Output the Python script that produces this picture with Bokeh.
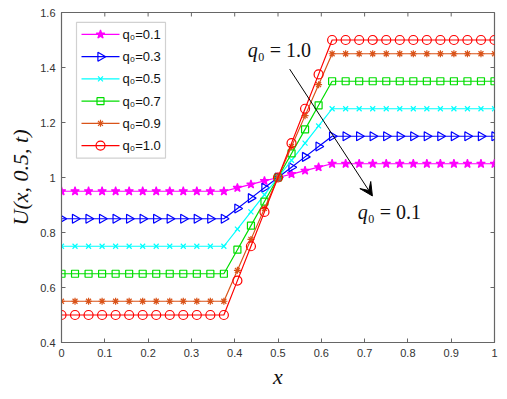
import math
from bokeh.plotting import figure
from bokeh.models import (FixedTicker, Range1d, Arrow, VeeHead, Label, BoxAnnotation)
from bokeh.embed import file_html
from bokeh.resources import INLINE

# ---- data ----
x = [0, 0.03125, 0.0625, 0.09375, 0.125, 0.15625, 0.1875, 0.21875, 0.25,
     0.28125, 0.3125, 0.34375, 0.375, 0.40625, 0.4375, 0.46875, 0.5, 0.53125,
     0.5625, 0.59375, 0.625, 0.65625, 0.6875, 0.71875, 0.75, 0.78125, 0.8125,
     0.84375, 0.875, 0.90625, 0.9375, 0.96875, 1.0]

u_q01 = [0.95]*13 + [0.9625, 0.975, 0.9875, 1.0, 1.0125, 1.025, 1.0375] + [1.05]*13
u_q03 = [0.85]*13 + [0.8875, 0.925, 0.9625, 1.0, 1.0375, 1.075, 1.1125] + [1.15]*13
u_q05 = [0.75]*13 + [0.8125, 0.875, 0.9375, 1.0, 1.0625, 1.125, 1.1875] + [1.25]*13
u_q07 = [0.65]*13 + [0.7375, 0.825, 0.9125, 1.0, 1.0875, 1.175, 1.2625] + [1.35]*13
u_q09 = [0.55]*13 + [0.6625, 0.775, 0.8875, 1.0, 1.1125, 1.225, 1.3375] + [1.45]*13
u_q10 = [0.5]*13 + [0.625, 0.75, 0.875, 1.0, 1.125, 1.25, 1.375] + [1.5]*13

labels = ["q\u2080=0.1", "q\u2080=0.3", "q\u2080=0.5", "q\u2080=0.7", "q\u2080=0.9", "q\u2080=1.0"]
series = [u_q01, u_q03, u_q05, u_q07, u_q09, u_q10]

x_ticks = [0, 0.1, 0.2, 0.3, 0.4, 0.5, 0.6, 0.7, 0.8, 0.9, 1.0]
x_tick_labels = ["0", "0.1", "0.2", "0.3", "0.4", "0.5", "0.6", "0.7", "0.8", "0.9", "1"]
y_ticks = [0.4, 0.6, 0.8, 1.0, 1.2, 1.4, 1.6]
y_tick_labels = ["0.4", "0.6", "0.8", "1", "1.2", "1.4", "1.6"]

# ---- styles ----
colors = ["#FF00FF", "#0000FF", "#00FFFF", "#00DD00", "#D95319", "#FF0000"]
markers = ["star", "triangle", "x", "square", "asterisk", "circle"]
angles = [0, -90, 0, 0, 0, 0]
fills = [True, False, False, False, False, False]
sizes = [9, 9, 7, 7, 7, 9]

X0, X1, Y0, Y1 = 0, 1, 0.4, 1.6
ML, MT, FW, FH = 61, 12, 433, 331


def xd(px):
    return X0 + (px - ML) / FW * (X1 - X0)


def yd(py):
    return Y1 - (py - MT) / FH * (Y1 - Y0)


p = figure(width=499, height=391, output_backend="svg", toolbar_location=None,
           x_range=Range1d(X0, X1), y_range=Range1d(Y0, Y1),
           min_border_left=ML, min_border_right=5, min_border_top=MT,
           min_border_bottom=48)
p.xgrid.visible = False
p.ygrid.visible = False
p.outline_line_color = "#666666"
p.outline_line_width = 1.2

axis_col = "#666666"
for ax in [p.xaxis[0], p.yaxis[0]]:
    ax.axis_line_color = axis_col
    ax.major_tick_line_color = axis_col
    ax.minor_tick_line_color = None
    ax.major_tick_in = 4
    ax.major_tick_out = 0
    ax.major_label_text_font = "Liberation Sans"
    ax.major_label_text_font_size = "11px"
    ax.major_label_text_color = "#333333"
    ax.axis_label_text_font = "Liberation Serif"
    ax.axis_label_text_font_style = "italic"
    ax.axis_label_text_font_size = "22px"
    ax.axis_label_text_color = "#111111"

p.xaxis[0].ticker = FixedTicker(ticks=x_ticks)
p.xaxis[0].major_label_overrides = {t: l for t, l in zip(x_ticks, x_tick_labels)}
p.yaxis[0].ticker = FixedTicker(ticks=y_ticks)
p.yaxis[0].major_label_overrides = {t: l for t, l in zip(y_ticks, y_tick_labels)}
p.xaxis[0].axis_label = "x"
p.xaxis[0].axis_label_standoff = 4
p.yaxis[0].axis_label = "U(x, 0.5, t)"
p.yaxis[0].axis_label_standoff = 4
p.yaxis[0].major_label_standoff = 6
p.xaxis[0].major_label_standoff = 6

# inward ticks on top and right edges of the box
tlen_x = 4 / FW * (X1 - X0)
tlen_y = 4 / FH * (Y1 - Y0)
p.segment(x0=x_ticks, y0=[Y1]*len(x_ticks), x1=x_ticks, y1=[Y1 - tlen_y]*len(x_ticks),
          line_color=axis_col, line_width=1)
p.segment(x0=[X1]*len(y_ticks), y0=y_ticks, x1=[X1 - tlen_x]*len(y_ticks), y1=y_ticks,
          line_color=axis_col, line_width=1)

for ys, c, m, a, f, s in zip(series, colors, markers, angles, fills, sizes):
    p.line(x, ys, line_color=c, line_width=1.2)
    p.scatter(x, ys, marker=m, angle=a, angle_units="deg", size=s, line_color=c,
              line_width=1.2, fill_color=c if f else None)

# ---- legend (drawn by hand so the right-pointing triangle shows) ----
p.add_layout(BoxAnnotation(left=xd(76), right=xd(165), top=yd(22), bottom=yd(158),
                           fill_color="white", fill_alpha=1.0,
                           line_color="#666666", line_width=1.2))
row_y = [34, 56.3, 78.6, 100.9, 123.2, 145.5]
for ry, lab, c, m, a, f, s in zip(row_y, labels, colors, markers, angles, fills, sizes):
    yy = yd(ry)
    p.line([xd(81), xd(119)], [yy, yy], line_color=c, line_width=1.2, level="overlay")
    p.scatter([xd(100)], [yy], marker=m, angle=a, angle_units="deg", size=s,
              line_color=c, line_width=1.2, fill_color=c if f else None, level="overlay")
    p.add_layout(Label(x=xd(122), y=yy, text=lab, text_font="Liberation Sans",
                       text_font_size="13px", text_baseline="middle",
                       text_color="#111111", level="overlay"))

# ---- annotations ----
p.add_layout(Arrow(end=VeeHead(size=13, fill_color="black", line_color="black"),
                   x_start=0.527, y_start=1.394, x_end=0.718, y_end=0.933,
                   line_color="black", line_width=1))
for tx, ty, rest in [(0.43, 1.463, "\u2080 = 1.0"), (0.684, 0.874, "\u2080 = 0.1")]:
    p.add_layout(Label(x=tx, y=ty, text="q", text_font="Liberation Serif",
                       text_font_style="italic", text_font_size="20px",
                       text_baseline="middle", text_color="#111111"))
    p.add_layout(Label(x=tx, y=ty, x_offset=10, text=rest, text_font="Liberation Serif",
                       text_font_size="20px", text_baseline="middle",
                       text_color="#111111"))

open("out.html", "w").write(file_html(p, INLINE))
